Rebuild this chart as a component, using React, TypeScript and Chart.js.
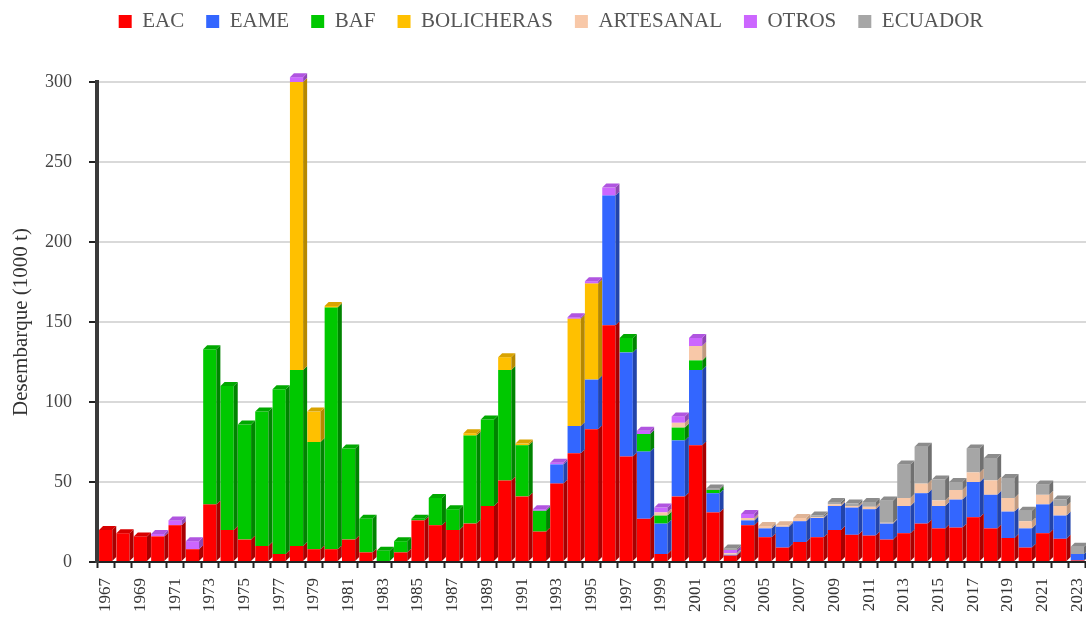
import React, { useEffect, useRef } from 'react';
import { Chart, registerables } from 'chart.js';

Chart.register(...registerables);

const years = [
  '1967', '1968', '1969', '1970', '1971', '1972', '1973', '1974', '1975', '1976',
  '1977', '1978', '1979', '1980', '1981', '1982', '1983', '1984', '1985', '1986',
  '1987', '1988', '1989', '1990', '1991', '1992', '1993', '1994', '1995', '1996',
  '1997', '1998', '1999', '2000', '2001', '2002', '2003', '2004', '2005', '2006',
  '2007', '2008', '2009', '2010', '2011', '2012', '2013', '2014', '2015', '2016',
  '2017', '2018', '2019', '2020', '2021', '2022', '2023',
];

const eac = [
  20, 18, 16, 16, 23, 8, 36, 20, 14, 10,
  5, 10, 8, 8, 14, 6, 0, 6, 26, 23,
  20, 24, 35, 51, 41, 19, 49, 68, 83, 148,
  66, 27, 5, 41, 73, 31, 4, 23, 15.5, 9,
  12.5, 15.5, 20, 17, 16.5, 14, 18, 24, 21, 21.5,
  28, 21, 15, 9, 18, 14.5, 1,
];
const eame = [
  0, 0, 0, 0, 0, 0, 0, 0, 0, 0,
  0, 0, 0, 0, 0, 0, 0, 0, 0, 0,
  0, 0, 0, 0, 0, 0, 12, 17, 31, 81,
  65, 42, 19, 35, 47, 12, 0.5, 3, 5.5, 13,
  13, 12, 15, 17, 16.5, 10, 17, 19, 14, 17.5,
  22, 21, 16.5, 12, 18, 14.5, 4,
];
const baf = [
  0, 0, 0, 0, 0, 0, 97, 90, 72, 84,
  103, 110, 67, 151, 57, 21, 7, 7, 1, 17,
  13, 55, 54, 69, 32, 13, 0, 0, 0, 0,
  9, 11, 5, 8, 6, 2, 0, 0, 0, 0,
  0, 0, 0, 0, 0, 0, 0, 0, 0, 0,
  0, 0, 0, 0, 0, 0, 0,
];
const bolicheras = [
  0, 0, 0, 0, 0, 0, 0, 0, 0, 0,
  0, 180, 19, 1, 0, 0, 0, 0, 0, 0,
  0, 1.5, 0, 8, 1, 0, 0, 67, 60, 0,
  0, 0, 0, 0, 0, 0, 0, 0, 0, 0,
  0, 0, 0, 0, 0, 0, 0, 0, 0, 0,
  0, 0, 0, 0, 0, 0, 0,
];
const artesanal = [
  0, 0, 0, 0, 0, 0, 0, 0, 0, 0,
  0, 0, 0, 0, 0, 0, 0, 0, 0, 0,
  0, 0, 0, 0, 0, 0, 0, 0, 0, 0,
  0, 0, 2, 3, 9, 0, 1, 1.5, 1.5, 1,
  2, 0.5, 1, 1, 1.5, 0.5, 5, 6, 3.5, 6,
  6, 9, 8.5, 4.5, 6, 6, 0,
];
const otros = [
  0, 0, 0, 1.5, 3, 5, 0, 0, 0, 0,
  0, 3, 0, 0, 0, 0, 0, 0, 0, 0,
  0, 0, 0, 0, 0, 1, 1, 1, 1.5, 5,
  0, 2, 3, 4, 5, 0, 2, 2.5, 0, 0,
  0, 0, 0, 0, 0, 0, 0, 0, 0, 0,
  0, 0, 0, 0, 0, 0, 0,
];
const ecuador = [
  0, 0, 0, 0, 0, 0, 0, 0, 0, 0,
  0, 0, 0, 0, 0, 0, 0, 0, 0, 0,
  0, 0, 0, 0, 0, 0, 0, 0, 0, 0,
  0, 0, 0, 0, 0, 1, 1, 0, 0, 0,
  0, 1, 1.5, 1.5, 3, 14, 21, 23, 13, 5,
  15, 14, 12.5, 6.5, 6.5, 4, 4.5,
];

const seriesNames = ['EAC', 'EAME', 'BAF', 'BOLICHERAS', 'ARTESANAL', 'OTROS', 'ECUADOR'];
const seriesValues = [eac, eame, baf, bolicheras, artesanal, otros, ecuador];
const frontColors = ['#ff0000', '#3366ff', '#00c800', '#ffc000', '#f8c8a8', '#cc66ff', '#a6a6a6'];
const sideColors = ['#a80000', '#2244aa', '#008400', '#b58800', '#c09a80', '#8f47b3', '#707070'];
const topColors = ['#d80000', '#2b57d8', '#00a800', '#d9a300', '#e0b496', '#b055e0', '#8c8c8c'];

const yTicks = [0, 50, 100, 150, 200, 250, 300];

const FONT = "'Liberation Serif', 'Times New Roman', serif";

const bar3d = {
  id: 'bar3d',
  afterDatasetsDraw(chart: any) {
    const ctx = chart.ctx;
    const d = 4;
    const n = chart.data.labels.length;
    const topIdx: number[] = [];
    for (let j = 0; j < n; j++) topIdx.push(-1);
    chart.data.datasets.forEach((ds: any, i: number) => {
      ds.data.forEach((v: number, j: number) => {
        if (v > 0) topIdx[j] = i;
      });
    });
    ctx.save();
    chart.data.datasets.forEach((ds: any, i: number) => {
      const meta = chart.getDatasetMeta(i);
      meta.data.forEach((el: any, j: number) => {
        const v = ds.data[j];
        if (!(v > 0)) return;
        const p = el.getProps(['x', 'y', 'base', 'width'], true);
        const l = p.x - p.width / 2;
        const r = p.x + p.width / 2;
        ctx.fillStyle = sideColors[i];
        ctx.beginPath();
        ctx.moveTo(r, p.y);
        ctx.lineTo(r + d, p.y - d);
        ctx.lineTo(r + d, p.base - d);
        ctx.lineTo(r, p.base);
        ctx.closePath();
        ctx.fill();
        if (topIdx[j] === i) {
          ctx.fillStyle = topColors[i];
          ctx.beginPath();
          ctx.moveTo(l, p.y);
          ctx.lineTo(l + d, p.y - d);
          ctx.lineTo(r + d, p.y - d);
          ctx.lineTo(r, p.y);
          ctx.closePath();
          ctx.fill();
        }
      });
    });
    ctx.restore();
  },
};

const legendSpace = {
  id: 'legendSpace',
  beforeInit(chart: any) {
    const lg = chart.legend;
    if (!lg) return;
    const fit = lg.fit;
    lg.fit = function () {
      fit.call(this);
      this.height = 93;
    };
    const draw = lg.draw;
    lg.draw = function () {
      this.ctx.save();
      this.ctx.translate(7, 0);
      draw.call(this);
      this.ctx.restore();
    };
  },
};

export default function App() {
  const ref = useRef<HTMLCanvasElement>(null);
  useEffect(() => {
    document.body.style.margin = '0';
    const canvas = ref.current;
    if (!canvas) return;
    const chart = new Chart(canvas, {
      type: 'bar',
      data: {
        labels: years,
        datasets: seriesNames.map((name, i) => ({
          label: name,
          data: seriesValues[i],
          backgroundColor: frontColors[i],
          borderWidth: 0,
          barPercentage: 0.76,
          categoryPercentage: 1,
          clip: false as any,
        })),
      },
      options: {
        responsive: false,
        animation: false,
        layout: { padding: { top: -11, left: 2, right: 0, bottom: 0 } },
        plugins: {
          legend: {
            position: 'top',
            labels: {
              boxWidth: 13,
              boxHeight: 13,
              padding: 22,
              color: '#555',
              font: { family: FONT, size: 21 },
            },
          },
          tooltip: { enabled: false },
        },
        scales: {
          x: {
            stacked: true,
            afterFit: (s: any) => {
              s.height = 55;
              s.paddingRight = 0;
              s.paddingLeft = 0;
            },
            border: { display: true, color: '#222', width: 2 },
            grid: {
              display: true,
              drawOnChartArea: false,
              tickLength: 6,
              tickColor: '#222',
              tickWidth: 2,
            },
            ticks: {
              autoSkip: false,
              maxRotation: 90,
              minRotation: 90,
              padding: 10,
              color: '#333',
              font: { family: FONT, size: 17 },
              callback: (_v: any, idx: number) => (idx % 2 === 0 ? years[idx] : ''),
            },
          },
          y: {
            stacked: true,
            min: 0,
            max: 300,
            afterBuildTicks: (axis: any) => {
              axis.ticks = yTicks.map((v) => ({ value: v }));
            },
            afterFit: (s: any) => {
              s.width = 95;
            },
            border: { display: true, color: '#3a3a3a', width: 4 },
            grid: {
              color: '#d9d9d9',
              lineWidth: 2,
              tickLength: 8,
              tickColor: '#222',
              tickWidth: 2,
            },
            ticks: {
              padding: 17,
              color: '#444',
              font: { family: FONT, size: 18 },
            },
            title: {
              display: true,
              text: 'Desembarque (1000 t)',
              color: '#333',
              font: { family: FONT, size: 21 },
              padding: { top: 7, bottom: 4 },
            },
          },
        },
      },
      plugins: [bar3d, legendSpace],
    });
    return () => chart.destroy();
  }, []);
  return (
    <div style={{ width: 1086, height: 617, position: 'relative', background: '#fff' }}>
      <canvas ref={ref} width={1086} height={617} style={{ display: 'block' }} />
    </div>
  );
}
